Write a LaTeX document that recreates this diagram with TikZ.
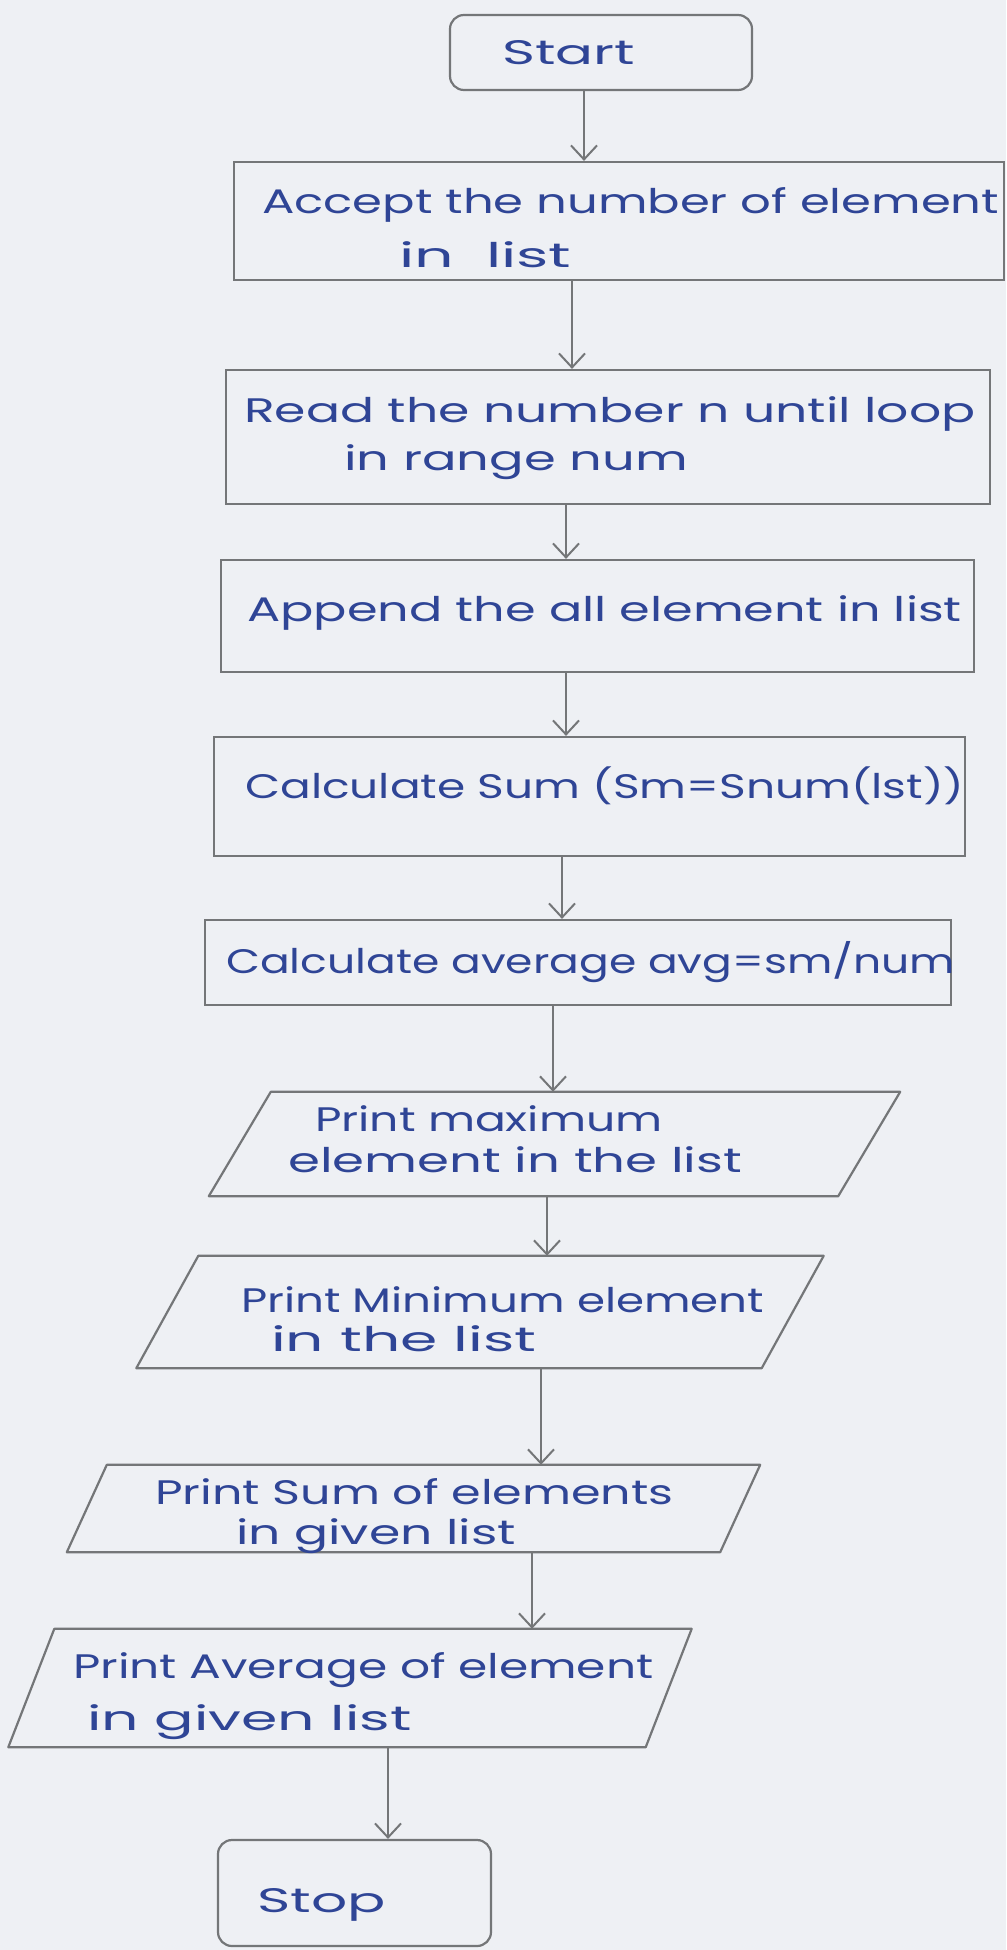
\documentclass[tikz,border=0pt]{standalone}
\usepackage{graphicx}
\usepackage{fontspec}
\setmainfont{Poppins}
\newfontfamily\hand[FakeStretch=1.4]{Poppins}
\usetikzlibrary{arrows.meta}
\definecolor{ink}{HTML}{2F4596}
\definecolor{pencil}{HTML}{747678}
\definecolor{paper}{HTML}{EEF0F4}
\newcommand\parashape[2]{\draw[pencil,line width=2.2pt,line join=round] ([xshift=#2]#1.north west) -- ([xshift=#2]#1.north east) -- ([xshift=-#2]#1.south east) -- ([xshift=-#2]#1.south west) -- cycle;}
\newcommand\sx[2]{\scalebox{#1}[1]{#2}}
\begin{document}
\begin{tikzpicture}[x=1pt,y=-1pt,
  shapebox/.style={draw=pencil, line width=2.2pt, inner sep=0pt},
  termbox/.style={shapebox, rounded corners=14pt},
  parabox/.style={inner sep=0pt, draw=none},
  txt/.style={font=\hand\fontsize{34}{40}\selectfont, text=ink, inner sep=0pt, anchor=mid west, yshift=-10pt},
  arr/.style={draw=pencil, line width=2pt, -{Straight Barb[length=14pt,width=26pt,line width=2pt]}}]
\fill[paper] (0,0) rectangle (1006,1950);
\useasboundingbox (0,0) rectangle (1006,1950);

% shapes
\node[termbox, minimum width=302pt, minimum height=75pt] (start) at (601,52.5) {};
\node[shapebox, minimum width=770pt, minimum height=118pt] (b1) at (619,221) {};
\node[shapebox, minimum width=764pt, minimum height=134pt] (b2) at (608,437) {};
\node[shapebox, minimum width=753pt, minimum height=112pt] (b3) at (597.5,616) {};
\node[shapebox, minimum width=751pt, minimum height=119pt] (b4) at (589.5,796.5) {};
\node[shapebox, minimum width=746pt, minimum height=85pt] (b5) at (578,962.5) {};
\node[parabox, minimum width=629pt, minimum height=104pt] (p1) at (554.5,1144) {};
\node[parabox, minimum width=625pt, minimum height=112pt] (p2) at (480,1312) {};
\node[parabox, minimum width=653pt, minimum height=87pt] (p3) at (413.5,1508.5) {};
\node[parabox, minimum width=637pt, minimum height=118pt] (p4) at (350,1688) {};
\node[termbox, minimum width=273pt, minimum height=106pt] (stop) at (354.5,1893) {};
\parashape{p1}{31pt}
\parashape{p2}{31pt}
\parashape{p3}{20pt}
\parashape{p4}{23pt}

% texts
\node[txt] (tstart) at (502,52) {\sx{1.18}{Start}};
\node[txt] (t1a) at (262,201) {\sx{1.01}{Accept the number of element}};
\node[txt] (t1b) at (399,255) {\sx{1.3}{in\hspace{12pt} list}};
\node[txt] (t2a) at (244,410) {\sx{1.06}{Read the number n until loop}};
\node[txt] (t2b) at (344,458) {\sx{1.075}{in range num}};
\node[txt] (t3) at (247,609) {\sx{1.036}{Append the all element in list}};
\node[txt] (t4) at (245,786) {\sx{0.955}{Calculate Sum (Sm=Snum(lst))}};
\node[txt] (t5) at (226,961) {\sx{0.925}{Calculate average avg=sm/num}};
\node[txt] (t6a) at (315,1119) {\sx{0.96}{Print maximum}};
\node[txt] (t6b) at (288,1160) {\sx{1.08}{element in the list}};
\node[txt] (t7a) at (241,1300) {\sx{0.95}{Print Minimum element}};
\node[txt] (t7b) at (271,1339) {\sx{1.26}{in the list}};
\node[txt] (t8a) at (155,1492) {\sx{1.0}{Print Sum of elements}};
\node[txt] (t8b) at (236,1532) {\sx{1.06}{in given list}};
\node[txt] (t9a) at (73,1666) {\sx{0.99}{Print Average of element}};
\node[txt] (t9b) at (87,1718) {\sx{1.23}{in given list}};
\node[txt] (tstop) at (257,1900) {\sx{1.19}{Stop}};

% connectors
\draw[arr] ([xshift=-17pt]start.south) -- ([xshift=-17pt]start.south |- b1.north);
\draw[arr] ([xshift=-47pt]b1.south) -- ([xshift=-47pt]b1.south |- b2.north);
\draw[arr] ([xshift=-42pt]b2.south) -- ([xshift=-42pt]b2.south |- b3.north);
\draw[arr] ([xshift=-31.5pt]b3.south) -- ([xshift=-31.5pt]b3.south |- b4.north);
\draw[arr] ([xshift=-27.5pt]b4.south) -- ([xshift=-27.5pt]b4.south |- b5.north);
\draw[arr] ([xshift=-25pt]b5.south) -- ([xshift=-25pt]b5.south |- p1.north);
\draw[arr] ([xshift=-7.5pt]p1.south) -- ([xshift=-7.5pt]p1.south |- p2.north);
\draw[arr] ([xshift=61pt]p2.south) -- ([xshift=61pt]p2.south |- p3.north);
\draw[arr] ([xshift=118.5pt]p3.south) -- ([xshift=118.5pt]p3.south |- p4.north);
\draw[arr] ([xshift=38pt]p4.south) -- ([xshift=38pt]p4.south |- stop.north);
\end{tikzpicture}
\end{document}
